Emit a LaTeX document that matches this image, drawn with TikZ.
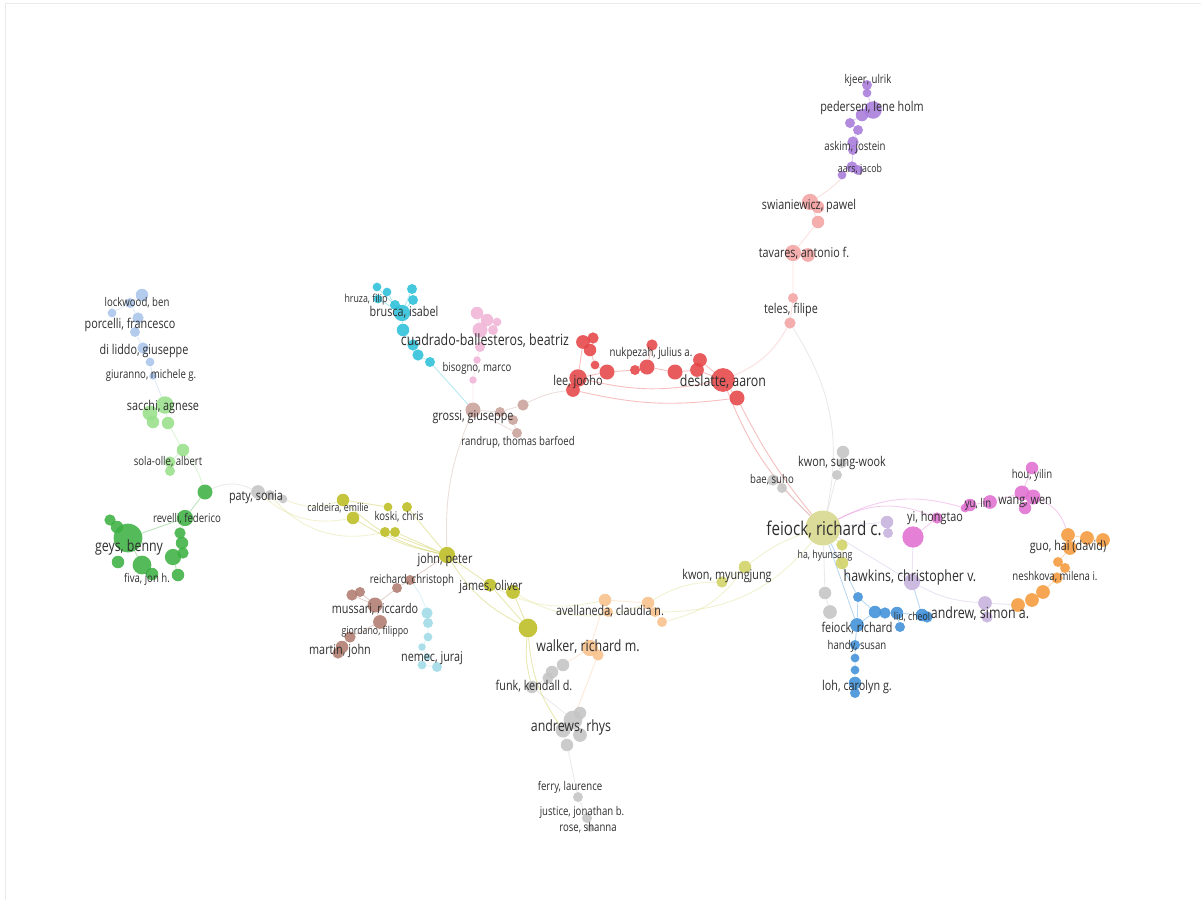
\documentclass[tikz,border=0pt]{standalone}
\usepackage{fontspec}
\setmainfont{Open Sans}
\usetikzlibrary{backgrounds}

\definecolor{cLblue}{HTML}{A9C4EA}
\definecolor{cLgreen}{HTML}{98DF8A}
\definecolor{cGreen}{HTML}{3CB043}
\definecolor{cGray}{HTML}{C4C4C4}
\definecolor{cOlive}{HTML}{BCBD22}
\definecolor{cPale}{HTML}{D6D78C}
\definecolor{cBrown}{HTML}{B07B6E}
\definecolor{cLcyan}{HTML}{9EDAE5}
\definecolor{cCyan}{HTML}{2BC0D8}
\definecolor{cPink}{HTML}{F0B4D6}
\definecolor{cRosy}{HTML}{C9A19A}
\definecolor{cRed}{HTML}{E54547}
\definecolor{cSalmon}{HTML}{F4A3A3}
\definecolor{cPurple}{HTML}{A77BDB}
\definecolor{cMagenta}{HTML}{E070D0}
\definecolor{cOrange}{HTML}{F59A3A}
\definecolor{cLorange}{HTML}{F8C08A}
\definecolor{cBlue}{HTML}{3D8FD8}
\definecolor{cLav}{HTML}{C5B0DD}

\tikzset{
  bub/.style={circle, inner sep=0pt, fill opacity=0.88, scale=1.25},
  lab/.style={inner sep=0pt, text=black!82, xscale=0.8},
  labL/.style={lab, font=\fontsize{19}{19}\selectfont},
  labB/.style={lab, font=\fontsize{15.5}{15.5}\selectfont},
  labM/.style={lab, font=\fontsize{13.5}{13.5}\selectfont},
  labS/.style={lab, font=\fontsize{12}{12}\selectfont},
  labT/.style={lab, font=\fontsize{11}{11}\selectfont},
  e/.style={line width=0.9pt, draw opacity=0.35}
}

\begin{document}
\begin{tikzpicture}[x=1pt, y=-1pt]
  \useasboundingbox (0,0) rectangle (1201,900);
  \draw[black!8, line width=1] (5,900) -- (5,3) -- (1201,3);

  % porcelli
  \node[bub, fill=cLblue, minimum size=10] (pb1) at (142,295) {};
  \node[bub, fill=cLblue, minimum size=8] (pb2) at (130,303) {};
  \node[bub, fill=cLblue, minimum size=7] (pb3) at (112,313) {};
  \node[bub, fill=cLblue, minimum size=9] (pb4) at (138,318) {};
  \node[bub, fill=cLblue, minimum size=8] (pb5) at (135,332) {};
  \node[bub, fill=cLblue, minimum size=9] (pb6) at (143,348) {};
  \node[bub, fill=cLblue, minimum size=7] (pb7) at (150,362) {};
  \node[bub, fill=cLblue, minimum size=6] (pb8) at (153,376) {};

  % sacchi
  \node[bub, fill=cLgreen, minimum size=12] (sg1) at (150,413) {};
  \node[bub, fill=cLgreen, minimum size=14] (sg2) at (165,405) {};
  \node[bub, fill=cLgreen, minimum size=10] (sg3) at (153,422) {};
  \node[bub, fill=cLgreen, minimum size=10] (sg4) at (168,423) {};
  \node[bub, fill=cLgreen, minimum size=10] (sg5) at (183,450) {};
  \node[bub, fill=cLgreen, minimum size=9] (sg6) at (170,462) {};
  \node[bub, fill=cLgreen, minimum size=8] (sg7) at (170,471) {};

  % geys
  \node[bub, fill=cGreen, minimum size=12] (gn1) at (205,492) {};
  \node[bub, fill=cGreen, minimum size=13] (gn2) at (185,518) {};
  \node[bub, fill=cGreen, minimum size=23] (geys) at (128,538) {};
  \node[bub, fill=cGreen, minimum size=10] (gn3) at (117,527) {};
  \node[bub, fill=cGreen, minimum size=9] (gn4) at (110,520) {};
  \node[bub, fill=cGreen, minimum size=10] (gn5) at (118,562) {};
  \node[bub, fill=cGreen, minimum size=15] (gn6) at (142,565) {};
  \node[bub, fill=cGreen, minimum size=10] (gn7) at (152,574) {};
  \node[bub, fill=cGreen, minimum size=13] (gn8) at (173,557) {};
  \node[bub, fill=cGreen, minimum size=10] (gn9) at (178,575) {};
  \node[bub, fill=cGreen, minimum size=10] (gn10) at (182,543) {};
  \node[bub, fill=cGreen, minimum size=9] (gn11) at (183,553) {};
  \node[bub, fill=cGreen, minimum size=9] (gn12) at (180,533) {};

  % paty
  \node[bub, fill=cGray, minimum size=11] (pt1) at (258,492) {};
  \node[bub, fill=cGray, minimum size=8] (pt2) at (270,495) {};
  \node[bub, fill=cGray, minimum size=7] (pt3) at (283,499) {};

  % john, peter
  \node[bub, fill=cOlive, minimum size=10] (ol1) at (343,500) {};
  \node[bub, fill=cOlive, minimum size=10] (ol2) at (353,518) {};
  \node[bub, fill=cOlive, minimum size=8] (ol3) at (407,507) {};
  \node[bub, fill=cOlive, minimum size=7] (ol6) at (388,507) {};
  \node[bub, fill=cOlive, minimum size=8] (ol4) at (385,532) {};
  \node[bub, fill=cOlive, minimum size=8] (ol5) at (395,532) {};
  \node[bub, fill=cOlive, minimum size=13] (john) at (447,555) {};
  \node[bub, fill=cOlive, minimum size=10] (ol7) at (490,585) {};
  \node[bub, fill=cOlive, minimum size=11] (ol8) at (513,592) {};
  \node[bub, fill=cOlive, minimum size=15] (ol9) at (528,628) {};
  \node[bub, fill=cOlive!70, minimum size=10] (km1) at (745,567) {};
  \node[bub, fill=cOlive!70, minimum size=9] (km2) at (722,582) {};
  \node[bub, fill=cOlive!70, minimum size=9] (ha1) at (842,545) {};
  \node[bub, fill=cOlive!70, minimum size=10] (ha2) at (842,563) {};
  \node[bub, fill=cPale, minimum size=28] (feiock) at (823,528) {};

  % mussari
  \node[bub, fill=cBrown, minimum size=8] (br1) at (397,588) {};
  \node[bub, fill=cBrown, minimum size=8] (br2) at (410,580) {};
  \node[bub, fill=cBrown, minimum size=9] (br3) at (352,595) {};
  \node[bub, fill=cBrown, minimum size=8] (br4) at (360,592) {};
  \node[bub, fill=cBrown, minimum size=12] (br5) at (375,605) {};
  \node[bub, fill=cBrown, minimum size=11] (br6) at (380,622) {};
  \node[bub, fill=cBrown, minimum size=9] (br7) at (350,637) {};
  \node[bub, fill=cBrown, minimum size=10] (br8) at (342,647) {};
  \node[bub, fill=cBrown, minimum size=9] (br9) at (338,653) {};

  % nemec
  \node[bub, fill=cLcyan, minimum size=9] (lc1) at (427,613) {};
  \node[bub, fill=cLcyan, minimum size=8] (lc2) at (428,623) {};
  \node[bub, fill=cLcyan, minimum size=7] (lc3) at (428,637) {};
  \node[bub, fill=cLcyan, minimum size=6] (lc4) at (422,647) {};
  \node[bub, fill=cLcyan, minimum size=6] (lc5) at (427,657) {};
  \node[bub, fill=cLcyan, minimum size=8] (lc6) at (437,667) {};
  \node[bub, fill=cLcyan, minimum size=7] (lc7) at (422,665) {};

  % brusca
  \node[bub, fill=cCyan, minimum size=7] (cy1) at (377,287) {};
  \node[bub, fill=cCyan, minimum size=7] (cy2) at (387,292) {};
  \node[bub, fill=cCyan, minimum size=8] (cy3) at (412,289) {};
  \node[bub, fill=cCyan, minimum size=8] (cy4) at (413,300) {};
  \node[bub, fill=cCyan, minimum size=7] (cy5) at (378,299) {};
  \node[bub, fill=cCyan, minimum size=8] (cy11) at (395,305) {};
  \node[bub, fill=cCyan, minimum size=13] (cy6) at (402,313) {};
  \node[bub, fill=cCyan, minimum size=10] (cy7) at (403,330) {};
  \node[bub, fill=cCyan, minimum size=9] (cy8) at (413,345) {};
  \node[bub, fill=cCyan, minimum size=9] (cy9) at (418,355) {};
  \node[bub, fill=cCyan, minimum size=8] (cy10) at (430,362) {};

  % cuadrado-ballesteros
  \node[bub, fill=cPink, minimum size=10] (pk1) at (477,313) {};
  \node[bub, fill=cPink, minimum size=10] (pk2) at (487,320) {};
  \node[bub, fill=cPink, minimum size=12] (pk3) at (480,330) {};
  \node[bub, fill=cPink, minimum size=8] (pk4) at (493,330) {};
  \node[bub, fill=cPink, minimum size=7] (pk5) at (497,322) {};
  \node[bub, fill=cPink, minimum size=8] (pk6) at (480,347) {};
  \node[bub, fill=cPink, minimum size=6] (pk7) at (477,360) {};
  \node[bub, fill=cPink, minimum size=6] (pk8) at (473,380) {};

  % grossi
  \node[bub, fill=cRosy, minimum size=12] (rs1) at (473,410) {};
  \node[bub, fill=cRosy, minimum size=8] (rs2) at (500,412) {};
  \node[bub, fill=cRosy, minimum size=8] (rs3) at (513,420) {};
  \node[bub, fill=cRosy, minimum size=9] (rs4) at (523,405) {};
  \node[bub, fill=cRosy, minimum size=8] (rs5) at (517,433) {};

  % deslatte
  \node[bub, fill=cRed, minimum size=11] (rd1) at (583,342) {};
  \node[bub, fill=cRed, minimum size=9] (rd2) at (593,338) {};
  \node[bub, fill=cRed, minimum size=10] (rd3) at (590,350) {};
  \node[bub, fill=cRed, minimum size=7] (rd4) at (595,365) {};
  \node[bub, fill=cRed, minimum size=12] (rd5) at (607,372) {};
  \node[bub, fill=cRed, minimum size=14] (rd6) at (578,378) {};
  \node[bub, fill=cRed, minimum size=11] (rd7) at (573,390) {};
  \node[bub, fill=cRed, minimum size=8] (rd8) at (635,370) {};
  \node[bub, fill=cRed, minimum size=12] (rd9) at (647,367) {};
  \node[bub, fill=cRed, minimum size=9] (rd10) at (652,345) {};
  \node[bub, fill=cRed, minimum size=12] (rd11) at (675,372) {};
  \node[bub, fill=cRed, minimum size=11] (rd12) at (700,360) {};
  \node[bub, fill=cRed, minimum size=11] (rd13) at (697,370) {};
  \node[bub, fill=cRed, minimum size=19] (rd14) at (723,380) {};
  \node[bub, fill=cRed, minimum size=12] (rd15) at (737,398) {};

  % swianiewicz, tavares, teles
  \node[bub, fill=cSalmon, minimum size=13] (sm1) at (810,202) {};
  \node[bub, fill=cSalmon, minimum size=10] (sm2) at (818,207) {};
  \node[bub, fill=cSalmon, minimum size=10] (sm3) at (818,222) {};
  \node[bub, fill=cSalmon, minimum size=13] (sm4) at (793,253) {};
  \node[bub, fill=cSalmon, minimum size=11] (sm5) at (808,255) {};
  \node[bub, fill=cSalmon, minimum size=8] (sm6) at (793,298) {};
  \node[bub, fill=cSalmon, minimum size=9] (sm7) at (790,323) {};

  % pedersen
  \node[bub, fill=cPurple, minimum size=8] (pu1) at (867,85) {};
  \node[bub, fill=cPurple, minimum size=7] (pu2) at (867,93) {};
  \node[bub, fill=cPurple, minimum size=14] (pu3) at (873,110) {};
  \node[bub, fill=cPurple, minimum size=10] (pu4) at (862,115) {};
  \node[bub, fill=cPurple, minimum size=8] (pu5) at (850,123) {};
  \node[bub, fill=cPurple, minimum size=8] (pu6) at (858,130) {};
  \node[bub, fill=cPurple, minimum size=9] (pu7) at (853,142) {};
  \node[bub, fill=cPurple, minimum size=8] (pu8) at (853,150) {};
  \node[bub, fill=cPurple, minimum size=9] (pu9) at (852,167) {};
  \node[bub, fill=cPurple, minimum size=8] (pu10) at (858,170) {};
  \node[bub, fill=cPurple, minimum size=7] (pu11) at (842,175) {};

  % kwon, bae and grey
  \node[bub, fill=cGray, minimum size=10] (gy1) at (843,452) {};
  \node[bub, fill=cGray, minimum size=8] (gy2) at (842,463) {};
  \node[bub, fill=cGray, minimum size=8] (gy3) at (837,475) {};
  \node[bub, fill=cGray, minimum size=9] (gy4) at (773,480) {};
  \node[bub, fill=cGray, minimum size=8] (gy5) at (782,488) {};
  \node[bub, fill=cGray, minimum size=10] (gy6) at (825,593) {};
  \node[bub, fill=cGray, minimum size=11] (gy7) at (830,612) {};

  % hawkins, andrew
  \node[bub, fill=cLav, minimum size=10] (lv1) at (887,522) {};
  \node[bub, fill=cLav, minimum size=8] (lv2) at (888,533) {};
  \node[bub, fill=cLav, minimum size=13] (lv3) at (912,582) {};
  \node[bub, fill=cLav, minimum size=11] (lv4) at (985,603) {};
  \node[bub, fill=cLav, minimum size=9] (lv5) at (987,617) {};

  % yi, wang
  \node[bub, fill=cMagenta, minimum size=17] (mg1) at (913,537) {};
  \node[bub, fill=cMagenta, minimum size=9] (mg2) at (937,518) {};
  \node[bub, fill=cMagenta, minimum size=10] (mg3) at (1032,468) {};
  \node[bub, fill=cMagenta, minimum size=12] (mg4) at (1022,493) {};
  \node[bub, fill=cMagenta, minimum size=12] (mg5) at (1033,497) {};
  \node[bub, fill=cMagenta, minimum size=10] (mg6) at (1025,508) {};
  \node[bub, fill=cMagenta, minimum size=11] (mg7) at (990,502) {};
  \node[bub, fill=cMagenta, minimum size=10] (mg8) at (970,505) {};
  \node[bub, fill=cMagenta, minimum size=7] (mg9) at (965,508) {};

  % guo, neshkova
  \node[bub, fill=cOrange, minimum size=11] (or1) at (1068,535) {};
  \node[bub, fill=cOrange, minimum size=11] (or2) at (1070,548) {};
  \node[bub, fill=cOrange, minimum size=11] (or3) at (1087,538) {};
  \node[bub, fill=cOrange, minimum size=11] (or4) at (1103,540) {};
  \node[bub, fill=cOrange, minimum size=8] (or5) at (1058,562) {};
  \node[bub, fill=cOrange, minimum size=8] (or6) at (1065,568) {};
  \node[bub, fill=cOrange, minimum size=9] (or7) at (1057,578) {};
  \node[bub, fill=cOrange, minimum size=11] (or8) at (1043,592) {};
  \node[bub, fill=cOrange, minimum size=11] (or9) at (1032,600) {};
  \node[bub, fill=cOrange, minimum size=11] (or10) at (1018,605) {};

  % liu, loh
  \node[bub, fill=cBlue, minimum size=8] (bl1) at (858,597) {};
  \node[bub, fill=cBlue, minimum size=10] (bl2) at (875,612) {};
  \node[bub, fill=cBlue, minimum size=9] (bl3) at (885,613) {};
  \node[bub, fill=cBlue, minimum size=10] (bl4) at (897,613) {};
  \node[bub, fill=cBlue, minimum size=8] (bl5) at (900,627) {};
  \node[bub, fill=cBlue, minimum size=10] (bl6) at (922,615) {};
  \node[bub, fill=cBlue, minimum size=9] (bl7) at (927,617) {};
  \node[bub, fill=cBlue, minimum size=11] (bl8) at (857,625) {};
  \node[bub, fill=cBlue, minimum size=8] (bl9) at (855,645) {};
  \node[bub, fill=cBlue, minimum size=7] (bl10) at (855,658) {};
  \node[bub, fill=cBlue, minimum size=7] (bl11) at (855,670) {};
  \node[bub, fill=cBlue, minimum size=10] (bl12) at (855,683) {};
  \node[bub, fill=cBlue, minimum size=8] (bl13) at (855,693) {};

  % walker, avellaneda
  \node[bub, fill=cLorange, minimum size=10] (lo1) at (605,600) {};
  \node[bub, fill=cLorange, minimum size=8] (lo2) at (608,612) {};
  \node[bub, fill=cLorange, minimum size=10] (lo3) at (648,603) {};
  \node[bub, fill=cLorange, minimum size=8] (lo4) at (655,612) {};
  \node[bub, fill=cLorange, minimum size=8] (lo5) at (662,622) {};
  \node[bub, fill=cLorange, minimum size=13] (lo6) at (590,648) {};
  \node[bub, fill=cLorange, minimum size=9] (lo7) at (598,655) {};

  % andrews
  \node[bub, fill=cGray, minimum size=10] (ga1) at (563,665) {};
  \node[bub, fill=cGray, minimum size=10] (ga2) at (552,672) {};
  \node[bub, fill=cGray, minimum size=9] (ga3) at (548,678) {};
  \node[bub, fill=cGray, minimum size=10] (ga4) at (532,687) {};
  \node[bub, fill=cGray, minimum size=10] (ga9) at (580,713) {};
  \node[bub, fill=cGray, minimum size=15] (ga5) at (573,720) {};
  \node[bub, fill=cGray, minimum size=12] (ga6) at (563,730) {};
  \node[bub, fill=cGray, minimum size=11] (ga7) at (580,735) {};
  \node[bub, fill=cGray, minimum size=10] (ga8) at (567,745) {};
  \node[bub, fill=cGray, minimum size=8] (ga10) at (578,797) {};
  \node[bub, fill=cGray, minimum size=8] (ga11) at (587,818) {};
  \node[bub, fill=cGray, minimum size=6] (ga12) at (590,828) {};

  % labels
  \node[labS] (Llockwood) at (137,303) {lockwood, ben};
  \node[labM] (Lporcelli) at (130,325) {porcelli, francesco};
  \node[labM] (Lliddo) at (144,351) {di liddo, giuseppe};
  \node[labS] (Lgiuranno) at (151,375) {giuranno, michele g.};
  \node[labM] (Lsacchi) at (163,407) {sacchi, agnese};
  \node[labS] (Lsola) at (168,462) {sola-olle, albert};
  \node[labS] (Lrevelli) at (187,519) {revelli, federico};
  \node[labB] (Lgeys) at (129,547) {geys, benny};
  \node[labS] (Lfiva) at (147,579) {fiva, jon h.};
  \node[labM] (Lpaty) at (256,497) {paty, sonia};
  \node[labT] (Lcaldeira) at (338,508) {caldeira, emilie};
  \node[labS] (Lkoski) at (399,517) {koski, chris};
  \node[labM] (Ljohn) at (445,560) {john, peter};
  \node[labM] (Ljames) at (491,587) {james, oliver};
  \node[labS] (Lreichard) at (412,580) {reichard, christoph};
  \node[labM] (Lmussari) at (375,609) {mussari, riccardo};
  \node[labT] (Lgiordano) at (375,632) {giordano, filippo};
  \node[labM] (Lmartin) at (340,651) {martin, john};
  \node[labM] (Lnemec) at (432,658) {nemec, juraj};
  \node[labT] (Lhruza) at (366,300) {hruza, filip};
  \node[labM] (Lbrusca) at (404,312) {brusca, isabel};
  \node[labB] (Lcuadrado) at (485,341) {cuadrado-ballesteros, beatriz};
  \node[labS] (Lbisogno) at (477,368) {bisogno, marco};
  \node[labM] (Lgrossi) at (473,417) {grossi, giuseppe};
  \node[labS] (Lrandrup) at (518,442) {randrup, thomas barfoed};
  \node[labM] (Llee) at (578,382) {lee, jooho};
  \node[labS] (Lnukpezah) at (651,353) {nukpezah, julius a.};
  \node[labB] (Ldeslatte) at (723,382) {deslatte, aaron};
  \node[labS] (Lkjeer) at (868,80) {kjeer, ulrik};
  \node[labM] (Lpedersen) at (872,108) {pedersen, lene holm};
  \node[labS] (Laskim) at (855,147) {askim, jostein};
  \node[labT] (Laars) at (860,170) {aars, jacob};
  \node[labM] (Lswian) at (809,206) {swianiewicz, pawel};
  \node[labM] (Ltavares) at (804,253) {tavares, antonio f.};
  \node[labM] (Lteles) at (791,310) {teles, filipe};
  \node[labM] (Lkwonsw) at (842,463) {kwon, sung-wook};
  \node[labS] (Lbae) at (772,480) {bae, suho};
  \node[labL] (Lfeiock) at (824,529) {feiock, richard c.};
  \node[labT] (Lha) at (825,556) {ha, hyunsang};
  \node[labM] (Lkwonmj) at (727,576) {kwon, myungjung};
  \node[labM] (Lyi) at (935,518) {yi, hongtao};
  \node[labB] (Lhawkins) at (910,577) {hawkins, christopher v.};
  \node[labT] (Lliu) at (912,617) {liu, cheol};
  \node[labB] (Landrew) at (980,614) {andrew, simon a.};
  \node[labM] (Lfeiockr) at (857,628) {feiock, richard};
  \node[labS] (Lhandy) at (857,646) {handy, susan};
  \node[labM] (Lloh) at (857,687) {loh, carolyn g.};
  \node[labS] (Lhou) at (1032,475) {hou, yilin};
  \node[labM] (Lwang) at (1025,502) {wang, wen};
  \node[labS] (Lyu) at (978,504) {yu, lin};
  \node[labM] (Lguo) at (1068,547) {guo, hai (david)};
  \node[labS] (Lneshkova) at (1055,577) {neshkova, milena i.};
  \node[labM] (Lavell) at (610,611) {avellaneda, claudia n.};
  \node[labB] (Lwalker) at (588,647) {walker, richard m.};
  \node[labM] (Lfunk) at (534,686) {funk, kendall d.};
  \node[labB] (Landrews) at (571,727) {andrews, rhys};
  \node[labS] (Lferry) at (570,787) {ferry, laurence};
  \node[labS] (Ljustice) at (582,812) {justice, jonathan b.};
  \node[labS] (Lrose) at (588,828) {rose, shanna};

  % links
  \begin{scope}[on background layer]
    \draw[e, cLblue] (pb1) -- (pb2) -- (pb4) -- (pb5) -- (pb6) -- (pb7) -- (pb8) -- (sg2);
    \draw[e, cLblue] (pb2) -- (pb3);
    \draw[e, cLgreen] (sg2) -- (sg1) -- (sg3) (sg2) -- (sg4) -- (sg5) -- (sg6) -- (sg7);
    \draw[e, cLgreen] (sg5) to[bend left=10] (gn1);
    \draw[e, cGreen] (gn1) -- (gn2) -- (geys) (gn2) -- (gn12) (geys) -- (gn3) -- (gn4);
    \draw[e, cGreen] (geys) -- (gn6) -- (gn7) (gn8) -- (gn9) (gn10) -- (gn11) -- (gn8);
    \draw[e, cGray] (gn1) to[bend left=25] (pt1);
    \draw[e, cOlive!60] (pt3) to[bend right=20] (ol1);
    \draw[e, cOlive!60] (pt1) to[bend right=25] (ol2);
    \draw[e, cOlive!60] (pt2) to[bend right=30] (ol4);
    \draw[e, cOlive] (ol1) to[bend right=15] (john);
    \draw[e, cOlive] (ol2) to[bend right=10] (john);
    \draw[e, cOlive] (ol3) -- (john) (ol4) -- (john) (ol5) -- (john) (ol6) -- (ol1);
    \draw[e, cOlive] (john) -- (ol7) -- (ol9) (ol8) -- (ol9) (ol7) -- (ol8);
    \draw[e, cOlive] (john) to[bend right=15] (ol9);
    \draw[e, cOlive] (ol9) to[bend right=10] (ga4);
    \draw[e, cOlive] (ol9) to[bend right=15] (ga6);
    \draw[e, cOlive!60] (ol7) to[bend right=20] (lo1);
    \draw[e, cOlive!60] (ol8) to[bend right=25] (lo3);
    \draw[e, cOlive!60] (lo3) to[bend left=15] (km2);
    \draw[e, cOlive!60] (lo5) to[bend right=20] (km1);
    \draw[e, cOlive!60] (km2) -- (km1);
    \draw[e, cOlive!60] (km1) to[bend left=10] (feiock);
    \draw[e, cOlive!60] (lo4) to[bend right=25] (feiock);
    \draw[e, cOlive] (feiock) -- (ha1) -- (ha2);
    \draw[e, cRosy] (john) to[bend left=12] (rs1);
    \draw[e, cBrown] (john) -- (br2) -- (br1) -- (br5) -- (br6) -- (br7) -- (br8) -- (br9);
    \draw[e, cBrown] (br3) -- (br5) (br4) -- (br5);
    \draw[e, cLcyan] (br2) to[bend left=10] (lc1);
    \draw[e, cLcyan] (lc1) -- (lc2) -- (lc3) -- (lc4) -- (lc5) (lc6) -- (lc7);
    \draw[e, cCyan] (cy6) -- (cy1) (cy6) -- (cy3) (cy6) -- (cy4) (cy11) -- (cy6) (cy5) -- (cy6) (cy2) -- (cy11);
    \draw[e, cCyan] (cy6) -- (cy7) -- (cy8) -- (cy9) -- (cy10);
    \draw[e, cCyan] (cy10) -- (rs1);
    \draw[e, cPink] (pk3) -- (pk1) (pk3) -- (pk2) (pk3) -- (pk4) (pk2) -- (pk5);
    \draw[e, cPink] (pk3) -- (pk6) -- (pk7) -- (pk8) -- (rs1);
    \draw[e, cRosy] (rs1) -- (rs2) -- (rs3) -- (rs5) (rs2) -- (rs4) (rs1) -- (rs5);
    \draw[e, cRosy] (rs4) to[bend left=10] (rd7);
    \draw[e, cRed] (rd6) -- (rd7) (rd6) -- (rd1) -- (rd2) (rd1) -- (rd3) -- (rd4) -- (rd5);
    \draw[e, cRed] (rd6) -- (rd5) -- (rd8) -- (rd9) -- (rd10) (rd9) -- (rd11) -- (rd13) -- (rd12);
    \draw[e, cRed] (rd13) -- (rd14) (rd12) -- (rd14) -- (rd15);
    \draw[e, cRed] (rd6) to[bend right=12] (rd14);
    \draw[e, cRed] (rd7) to[bend right=10] (rd15);
    \draw[e, cRed] (rd15) to[bend right=6] (feiock);
    \draw[e, cRed] (rd14) to[bend right=12] (feiock);
    \draw[e, cSalmon] (rd14) to[bend right=18] (sm7);
    \draw[e, cSalmon] (sm7) -- (sm6) -- (sm4) -- (sm5) (sm4) -- (sm3) -- (sm1) -- (sm2);
    \draw[e, cSalmon] (sm1) to[bend right=8] (pu9);
    \draw[e, cGray] (sm7) to[bend left=22] (feiock);
    \draw[e, cPurple] (pu9) -- (pu10) (pu9) -- (pu11) (pu9) -- (pu8) -- (pu7) -- (pu6) -- (pu5) -- (pu4) -- (pu3) -- (pu2) -- (pu1);
    \draw[e, cGray] (feiock) -- (gy3) -- (gy2) -- (gy1) (feiock) -- (gy5) -- (gy4) (feiock) -- (gy6) -- (gy7);
    \draw[e, cMagenta] (feiock) to[bend left=25] (mg2);
    \draw[e, cMagenta] (mg2) -- (mg1);
    \draw[e, cMagenta] (feiock) to[bend left=22] (mg9);
    \draw[e, cMagenta] (mg9) -- (mg8) -- (mg7) -- (mg4) -- (mg3) (mg4) -- (mg5) -- (mg6);
    \draw[e, cMagenta] (mg5) to[bend left=25] (or1);
    \draw[e, cLav] (feiock) -- (lv1) -- (lv2) (mg1) -- (lv3);
    \draw[e, cLav] (feiock) -- (lv3);
    \draw[e, cLav] (lv3) to[bend right=12] (lv4);
    \draw[e, cLav] (lv4) -- (lv5) (lv4) -- (or10);
    \draw[e, cOrange] (or10) -- (or9) -- (or8) -- (or7) -- (or6) -- (or5) -- (or2) -- (or1) -- (or3) -- (or4);
    \draw[e, cBlue] (feiock) -- (bl1) -- (bl8) -- (bl9) -- (bl10) -- (bl11) -- (bl12) -- (bl13);
    \draw[e, cBlue] (bl1) -- (bl2) -- (bl3) -- (bl4) -- (bl5) (bl4) -- (bl6) -- (bl7) (bl8) -- (bl2);
    \draw[e, cBlue] (feiock) -- (bl8) (lv3) -- (bl6);
    \draw[e, cLorange] (lo1) -- (lo2) (lo1) -- (lo3) -- (lo4) -- (lo5) (lo1) -- (lo6) -- (lo7);
    \draw[e, cLorange] (lo6) -- (ga1) (lo7) -- (ga5);
    \draw[e, cGray] (ga1) -- (ga2) -- (ga3) -- (ga4) -- (ga5) -- (ga6) -- (ga8) (ga5) -- (ga7) (ga5) -- (ga9);
    \draw[e, cGray] (ga8) -- (ga10) -- (ga11) -- (ga12);
  \end{scope}
\end{tikzpicture}
\end{document}
